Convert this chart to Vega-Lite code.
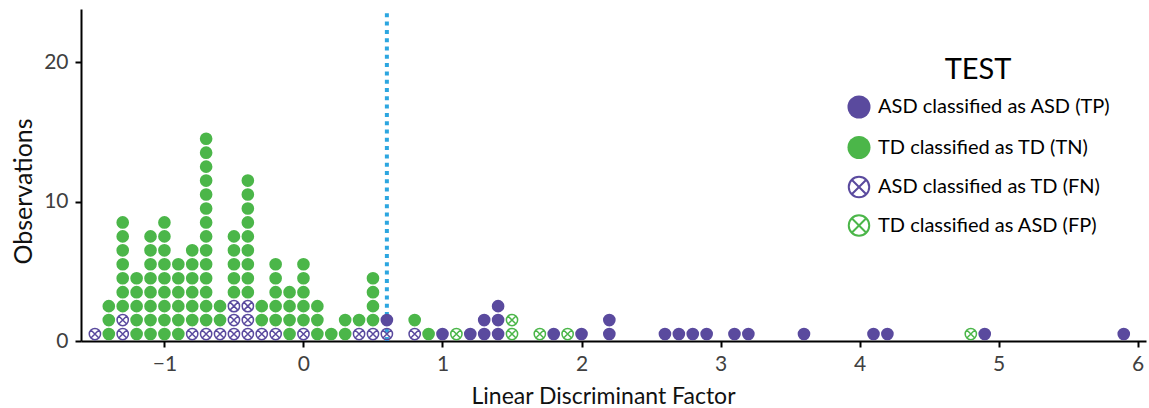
{
  "$schema": "https://vega.github.io/schema/vega-lite/v6.json",
  "width": 1065,
  "height": 332,
  "autosize": "none",
  "padding": {"left": 81, "top": 9, "right": 3, "bottom": 67},
  "background": "white",
  "config": {
    "font": "Lato",
    "view": {"stroke": null},
    "axis": {"grid": false, "domainColor": "#000000", "domainWidth": 2, "tickColor": "#000000", "tickWidth": 2, "tickSize": 6, "labelFont": "Lato", "labelFontSize": 21, "labelColor": "#404040", "titleFont": "Lato", "titleFontWeight": "normal", "titleColor": "#111111"}
  },
  "layer": [
    {
      "data": {"values": [{"threshold": 0.6}]},
      "mark": {"type": "rule", "color": "#2CA6E0", "strokeWidth": 4, "strokeDash": [4, 4.3]},
      "encoding": {
        "x": {"field": "threshold", "type": "quantitative"},
        "y": {"datum": 0.5, "type": "quantitative"},
        "y2": {"datum": 24.0}
      }
    },
    {
      "data": {"values": [
        {"x": -1.5, "c": "FN"},
        {"x": -1.4, "c": "TN"}, {"x": -1.4, "c": "TN"}, {"x": -1.4, "c": "TN"},
        {"x": -1.3, "c": "FN"}, {"x": -1.3, "c": "FN"}, {"x": -1.3, "c": "TN"}, {"x": -1.3, "c": "TN"}, {"x": -1.3, "c": "TN"}, {"x": -1.3, "c": "TN"}, {"x": -1.3, "c": "TN"}, {"x": -1.3, "c": "TN"}, {"x": -1.3, "c": "TN"},
        {"x": -1.2, "c": "TN"}, {"x": -1.2, "c": "TN"}, {"x": -1.2, "c": "TN"}, {"x": -1.2, "c": "TN"}, {"x": -1.2, "c": "TN"},
        {"x": -1.1, "c": "TN"}, {"x": -1.1, "c": "TN"}, {"x": -1.1, "c": "TN"}, {"x": -1.1, "c": "TN"}, {"x": -1.1, "c": "TN"}, {"x": -1.1, "c": "TN"}, {"x": -1.1, "c": "TN"}, {"x": -1.1, "c": "TN"},
        {"x": -1.0, "c": "TN"}, {"x": -1.0, "c": "TN"}, {"x": -1.0, "c": "TN"}, {"x": -1.0, "c": "TN"}, {"x": -1.0, "c": "TN"}, {"x": -1.0, "c": "TN"}, {"x": -1.0, "c": "TN"}, {"x": -1.0, "c": "TN"}, {"x": -1.0, "c": "TN"},
        {"x": -0.9, "c": "TN"}, {"x": -0.9, "c": "TN"}, {"x": -0.9, "c": "TN"}, {"x": -0.9, "c": "TN"}, {"x": -0.9, "c": "TN"}, {"x": -0.9, "c": "TN"},
        {"x": -0.8, "c": "FN"}, {"x": -0.8, "c": "TN"}, {"x": -0.8, "c": "TN"}, {"x": -0.8, "c": "TN"}, {"x": -0.8, "c": "TN"}, {"x": -0.8, "c": "TN"}, {"x": -0.8, "c": "TN"},
        {"x": -0.7, "c": "FN"}, {"x": -0.7, "c": "TN"}, {"x": -0.7, "c": "TN"}, {"x": -0.7, "c": "TN"}, {"x": -0.7, "c": "TN"}, {"x": -0.7, "c": "TN"}, {"x": -0.7, "c": "TN"}, {"x": -0.7, "c": "TN"}, {"x": -0.7, "c": "TN"}, {"x": -0.7, "c": "TN"}, {"x": -0.7, "c": "TN"}, {"x": -0.7, "c": "TN"}, {"x": -0.7, "c": "TN"}, {"x": -0.7, "c": "TN"}, {"x": -0.7, "c": "TN"},
        {"x": -0.6, "c": "FN"}, {"x": -0.6, "c": "TN"}, {"x": -0.6, "c": "TN"},
        {"x": -0.5, "c": "FN"}, {"x": -0.5, "c": "FN"}, {"x": -0.5, "c": "FN"}, {"x": -0.5, "c": "TN"}, {"x": -0.5, "c": "TN"}, {"x": -0.5, "c": "TN"}, {"x": -0.5, "c": "TN"}, {"x": -0.5, "c": "TN"},
        {"x": -0.4, "c": "FN"}, {"x": -0.4, "c": "FN"}, {"x": -0.4, "c": "FN"}, {"x": -0.4, "c": "TN"}, {"x": -0.4, "c": "TN"}, {"x": -0.4, "c": "TN"}, {"x": -0.4, "c": "TN"}, {"x": -0.4, "c": "TN"}, {"x": -0.4, "c": "TN"}, {"x": -0.4, "c": "TN"}, {"x": -0.4, "c": "TN"}, {"x": -0.4, "c": "TN"},
        {"x": -0.3, "c": "FN"}, {"x": -0.3, "c": "TN"}, {"x": -0.3, "c": "TN"},
        {"x": -0.2, "c": "FN"}, {"x": -0.2, "c": "TN"}, {"x": -0.2, "c": "TN"}, {"x": -0.2, "c": "TN"}, {"x": -0.2, "c": "TN"}, {"x": -0.2, "c": "TN"},
        {"x": -0.1, "c": "TN"}, {"x": -0.1, "c": "TN"}, {"x": -0.1, "c": "TN"}, {"x": -0.1, "c": "TN"},
        {"x": 0.0, "c": "FN"}, {"x": 0.0, "c": "TN"}, {"x": 0.0, "c": "TN"}, {"x": 0.0, "c": "TN"}, {"x": 0.0, "c": "TN"}, {"x": 0.0, "c": "TN"},
        {"x": 0.1, "c": "TN"}, {"x": 0.1, "c": "TN"}, {"x": 0.1, "c": "TN"},
        {"x": 0.2, "c": "TN"},
        {"x": 0.3, "c": "TN"}, {"x": 0.3, "c": "TN"},
        {"x": 0.4, "c": "FN"}, {"x": 0.4, "c": "TN"},
        {"x": 0.5, "c": "FN"}, {"x": 0.5, "c": "TN"}, {"x": 0.5, "c": "TN"}, {"x": 0.5, "c": "TN"}, {"x": 0.5, "c": "TN"},
        {"x": 0.6, "c": "FN"}, {"x": 0.6, "c": "TP"},
        {"x": 0.8, "c": "FN"}, {"x": 0.8, "c": "TN"},
        {"x": 0.9, "c": "TN"},
        {"x": 1.0, "c": "TP"},
        {"x": 1.1, "c": "FP"},
        {"x": 1.2, "c": "TP"},
        {"x": 1.3, "c": "TP"}, {"x": 1.3, "c": "TP"},
        {"x": 1.4, "c": "TP"}, {"x": 1.4, "c": "TP"}, {"x": 1.4, "c": "TP"},
        {"x": 1.5, "c": "FP"}, {"x": 1.5, "c": "FP"},
        {"x": 1.7, "c": "FP"},
        {"x": 1.8, "c": "TP"},
        {"x": 1.9, "c": "FP"},
        {"x": 2.0, "c": "TP"},
        {"x": 2.2, "c": "TP"}, {"x": 2.2, "c": "TP"},
        {"x": 2.6, "c": "TP"},
        {"x": 2.7, "c": "TP"},
        {"x": 2.8, "c": "TP"},
        {"x": 2.9, "c": "TP"},
        {"x": 3.1, "c": "TP"},
        {"x": 3.2, "c": "TP"},
        {"x": 3.6, "c": "TP"},
        {"x": 4.1, "c": "TP"},
        {"x": 4.2, "c": "TP"},
        {"x": 4.8, "c": "FP"},
        {"x": 4.9, "c": "TP"},
        {"x": 5.9, "c": "TP"}
      ]},
      "transform": [
        {"window": [{"op": "row_number", "as": "n"}], "groupby": ["x"], "sort": [{"field": "c", "order": "ascending"}]}
      ],
      "mark": {"type": "point", "size": 160, "opacity": 1, "strokeWidth": 1.5},
      "encoding": {
        "x": {
          "field": "x", "type": "quantitative",
          "scale": {"domain": [-1.6, 6.06], "nice": false, "zero": false},
          "axis": {"values": [-1, 0, 1, 2, 3, 4, 5, 6], "format": "d", "labelPadding": 6, "title": "Linear Discriminant Factor", "titleFontSize": 23, "titleX": 522, "titleY": 62, "titleBaseline": "alphabetic", "titleAlign": "center"}
        },
        "y": {
          "field": "n", "type": "quantitative",
          "scale": {"domain": [0.5, 24.3], "nice": false, "zero": false},
          "axis": {"values": [0.5, 10.5, 20.5], "labelExpr": "format(datum.value - 0.5, 'd')", "labelPadding": 7, "title": "Observations", "titleFontSize": 25, "titleAngle": 270, "titleX": -58, "titleY": 182, "titleAlign": "center", "titleBaseline": "middle"}
        },
        "shape": {
          "field": "c", "type": "nominal",
          "scale": {"domain": ["TP", "TN", "FN", "FP"], "range": ["circle", "circle", "M -0.89 0 A 0.89 0.89 0 1 0 0.89 0 A 0.89 0.89 0 1 0 -0.89 0 Z M -0.63 -0.63 L 0.63 0.63 M -0.63 0.63 L 0.63 -0.63", "M -0.89 0 A 0.89 0.89 0 1 0 0.89 0 A 0.89 0.89 0 1 0 -0.89 0 Z M -0.63 -0.63 L 0.63 0.63 M -0.63 0.63 L 0.63 -0.63"]},
          "legend": {
            "title": "TEST", "orient": "none", "legendX": 765, "legendY": 47, "padding": 0,
            "titleFont": "Lato", "titleFontSize": 29, "titleFontWeight": "normal", "titleColor": "#000000", "titleAnchor": "middle", "titlePadding": 9,
            "labelFont": "Lato", "labelFontSize": 20, "labelColor": "#000000", "labelOffset": 6, "labelLimit": 400,
            "symbolSize": 530, "symbolStrokeWidth": 2, "rowPadding": 8.5,
            "labelExpr": "datum.label == 'TP' ? 'ASD classified as ASD (TP)' : datum.label == 'TN' ? 'TD classified as TD (TN)' : datum.label == 'FN' ? 'ASD classified as TD (FN)' : 'TD classified as ASD (FP)'"
          }
        },
        "fill": {
          "field": "c", "type": "nominal",
          "scale": {"domain": ["TP", "TN", "FN", "FP"], "range": ["#5A4A9E", "#4BB649", "transparent", "transparent"]},
          "legend": {"title": "TEST"}
        },
        "stroke": {
          "field": "c", "type": "nominal",
          "scale": {"domain": ["TP", "TN", "FN", "FP"], "range": ["transparent", "transparent", "#5A4A9E", "#4BB649"]},
          "legend": {"title": "TEST"}
        }
      }
    }
  ]
}
